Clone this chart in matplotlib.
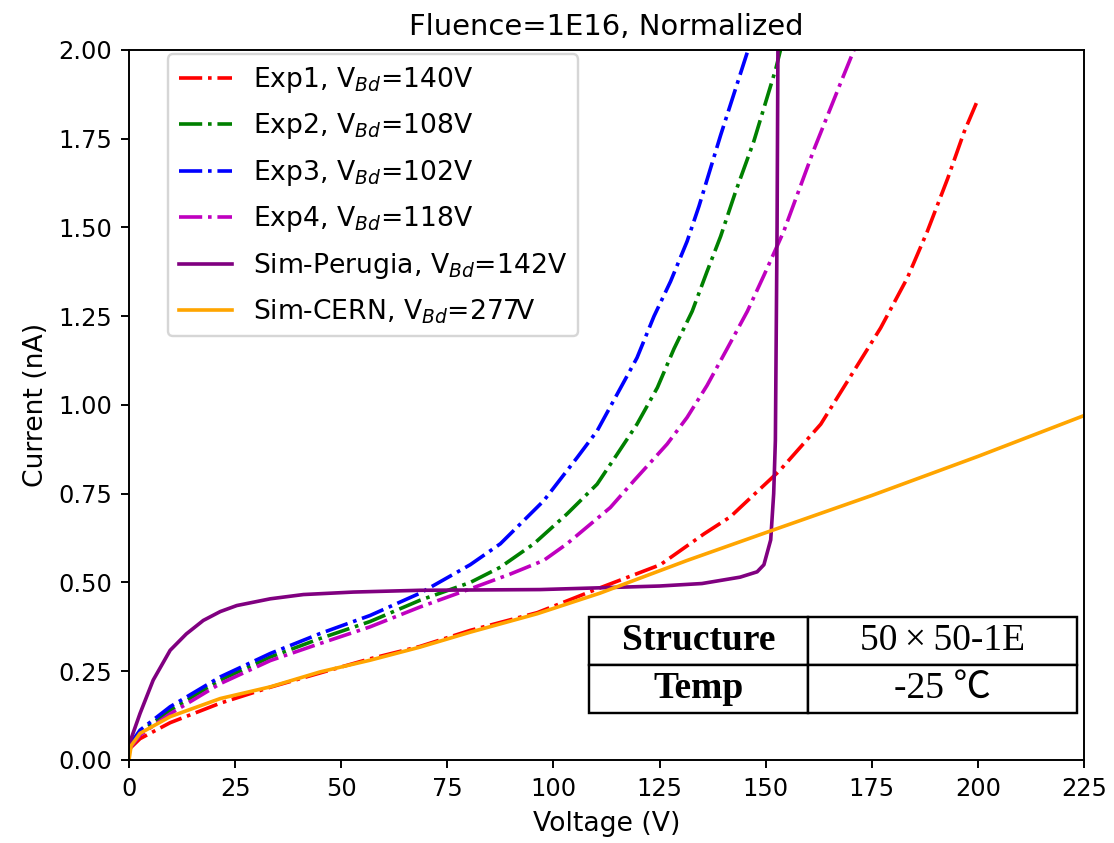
import numpy as np
import matplotlib
matplotlib.use('Agg')
from matplotlib import pyplot as plt

# Exp1 (red)
v_exp1 = [0, 2.6, 9.7, 21.5, 33.3, 45, 56.8, 68.6, 80.4, 96.2, 111, 125.2, 135.5, 141.7,
          144, 153.3, 163, 169.3, 177.1, 183.4, 188.1, 192.9, 196.8, 200]
i_exp1 = [0.03, 0.06, 0.105, 0.16, 0.205, 0.245, 0.285, 0.32, 0.365, 0.415, 0.485, 0.55,
          0.637, 0.685, 0.711, 0.815, 0.946, 1.067, 1.217, 1.358, 1.489, 1.638, 1.77, 1.86]

# Exp2 (green)
v_exp2 = [0, 2.6, 9.7, 21.5, 33.3, 45, 56.8, 68.6, 80.4, 87.5, 95.4, 103.2, 110.3, 115,
          119.7, 124.5, 128.4, 132.7, 136.2, 139.4, 142.9, 147.2, 152.4, 153.5]
i_exp2 = [0.035, 0.078, 0.14, 0.225, 0.29, 0.342, 0.39, 0.45, 0.50, 0.543, 0.609, 0.693,
          0.777, 0.861, 0.946, 1.049, 1.158, 1.264, 1.376, 1.475, 1.60, 1.742, 1.947, 2.0]

# Exp3 (blue)
v_exp3 = [0, 2.6, 9.7, 21.5, 33.3, 45, 56.8, 68.6, 80.4, 87.5, 97.7, 105.6, 110.3, 115,
          119.7, 123.7, 127.6, 131.5, 134.3, 139.4, 145.7, 148]
i_exp3 = [0.04, 0.084, 0.15, 0.234, 0.30, 0.356, 0.407, 0.47, 0.55, 0.609, 0.73, 0.852,
          0.927, 1.03, 1.133, 1.25, 1.348, 1.461, 1.56, 1.76, 1.994, 2.08]

# Exp4 (magenta)
v_exp4 = [0, 2.6, 9.7, 21.5, 33.3, 45, 56.8, 68.6, 80.4, 89.9, 97.7, 103.2, 113.4, 119,
          126.8, 131.5, 136.2, 141, 145.7, 149.6, 152.8, 154.3, 161.4, 168.1, 171.5]
i_exp4 = [0.03, 0.07, 0.13, 0.215, 0.28, 0.328, 0.375, 0.431, 0.482, 0.524, 0.562, 0.609,
          0.711, 0.787, 0.89, 0.965, 1.055, 1.16, 1.264, 1.365, 1.45, 1.49, 1.72, 1.92, 2.02]

# Sim-Perugia (purple)
v_perugia = [0, 0.5, 2.6, 5.7, 9.7, 13.5, 17.5, 21.5, 25.4, 33.3, 41.1, 52.9, 68.6, 96.9,
             111, 125, 135, 144, 148, 149.6, 151.2, 151.9, 152.3, 152.7, 152.9, 153.2]
i_perugia = [0.02, 0.06, 0.131, 0.225, 0.309, 0.355, 0.393, 0.418, 0.435, 0.454, 0.466,
             0.473, 0.478, 0.48, 0.485, 0.49, 0.497, 0.515, 0.53, 0.55, 0.62, 0.75, 0.9,
             1.5, 2.0, 2.1]

# Sim-CERN (orange)
v_cern = [0, 0.5, 2.6, 9.7, 21.5, 33.3, 45, 56.8, 68.6, 80.4, 96.2, 111, 131.5, 153.5,
          175, 200, 225]
i_cern = [0.0, 0.04, 0.075, 0.122, 0.173, 0.206, 0.248, 0.281, 0.318, 0.36, 0.412, 0.47,
          0.562, 0.655, 0.745, 0.855, 0.97]

table_rows = [["Structure", "50\u2009\u00d7\u200950-1E"], ["Temp", "-25 \u2103"]]

fig = plt.figure(figsize=(1114 / 174, 843 / 174), dpi=174)
ax = fig.add_axes([0.1158, 0.0985, 0.8572, 0.8422])

ax.plot(v_exp1, i_exp1, 'r-.', label='Exp1, V$_{Bd}$=140V')
ax.plot(v_exp2, i_exp2, 'g-.', label='Exp2, V$_{Bd}$=108V')
ax.plot(v_exp3, i_exp3, 'b-.', label='Exp3, V$_{Bd}$=102V')
ax.plot(v_exp4, i_exp4, 'm-.', label='Exp4, V$_{Bd}$=118V')
ax.plot(v_perugia, i_perugia, color='purple', label='Sim-Perugia, V$_{Bd}$=142V')
ax.plot(v_cern, i_cern, color='orange', label='Sim-CERN, V$_{Bd}$=277V')

ax.set_xlim(0, 225)
ax.set_ylim(0, 2.0)
ax.set_xticks(np.arange(0, 226, 25))
ax.set_yticks(np.arange(0, 2.01, 0.25))
ax.set_xlabel("Voltage (V)", fontsize=11)
ax.set_ylabel("Current (nA)", fontsize=11)
ax.set_title("Fluence=1E16, Normalized", fontsize=12)

ax.legend(loc='upper left', bbox_to_anchor=(0.041, 0.994), borderaxespad=0,
          fontsize=11, labelspacing=0.62)

tbl = ax.table(cellText=table_rows, cellLoc='center',
               bbox=[0.4817, 0.0662, 0.511, 0.1352], colWidths=[0.449, 0.551])
tbl.auto_set_font_size(False)
for (r, c), cell in tbl.get_celld().items():
    cell.set_linewidth(1.0)
    cell.set_edgecolor('black')
    cell.set_facecolor('white')
    t = cell.get_text()
    t.set_fontsize(15.5)
    t.set_fontfamily(['Liberation Serif', 'Noto Sans CJK SC'])
    if c == 0:
        t.set_fontweight('bold')
tbl.set_zorder(5)

fig.savefig('out.png', dpi=174)
